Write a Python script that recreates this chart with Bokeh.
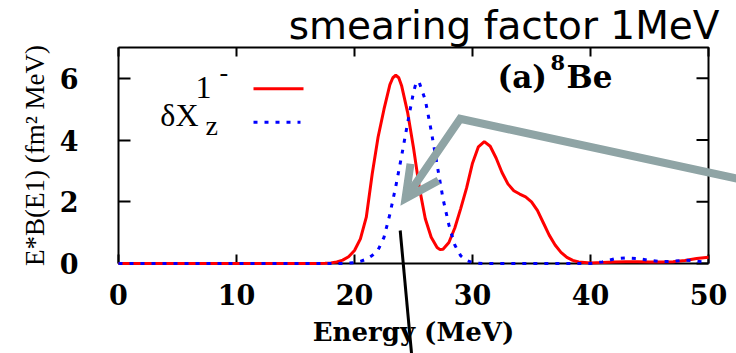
from bokeh.plotting import figure
from bokeh.models import Label, FixedTicker
from bokeh.embed import file_html
from bokeh.resources import INLINE

# E*B(E1) strength, smeared with 1 MeV: total 1- response
energy_1m = [0, 5, 10, 15, 17, 17.5, 18, 18.5, 19, 19.5, 20, 20.5, 21, 21.5, 22,
             22.5, 23, 23.25, 23.5, 23.75, 24, 24.5, 25, 25.5, 26, 26.5, 27,
             27.25, 27.5, 28, 28.5, 29, 29.5, 30, 30.5, 31, 31.5, 32, 32.5, 33,
             33.5, 34, 34.5, 35, 35.5, 36, 36.5, 37, 37.5, 38, 38.5, 39, 40,
             41, 42, 43, 44, 45, 46, 47, 48, 49, 50]
ebe1_1m = [0, 0, 0, 0, 0, 0.005, 0.02, 0.05, 0.11, 0.22, 0.42, 0.8, 1.5, 2.9, 4.1,
           5.0, 5.8, 6.02, 6.1, 6.02, 5.75, 4.9, 3.75, 2.45, 1.45, 0.85, 0.52,
           0.45, 0.46, 0.68, 1.15, 1.78, 2.45, 3.25, 3.78, 3.95, 3.8, 3.42, 2.95, 2.58,
           2.36, 2.25, 2.16, 2.0, 1.72, 1.32, 0.92, 0.6, 0.36, 0.2, 0.1, 0.05, 0.02,
           0.03, 0.05, 0.06, 0.06, 0.05, 0.05, 0.06, 0.1, 0.16, 0.2]

# delta X_z (dipole operator) response
energy_dx = [0, 5, 10, 15, 19, 19.5, 20, 20.5, 21, 21.5, 22, 22.5, 23, 23.5, 24,
             24.5, 25, 25.25, 25.5, 26, 26.5, 27, 27.5, 28, 28.5, 29, 29.5, 30,
             30.5, 31, 35, 40, 41, 42, 43, 44, 45, 46, 47, 48, 49, 50]
ebe1_dx = [0, 0, 0, 0, 0, 0.01, 0.03, 0.07, 0.14, 0.26, 0.44, 0.85, 1.6, 2.5, 3.5,
           4.55, 5.55, 5.9, 5.85, 5.3, 4.3, 3.2, 2.1, 1.25, 0.6, 0.25, 0.1, 0.03,
           0.01, 0, 0, 0, 0.05, 0.15, 0.18, 0.16, 0.1, 0.06, 0.07, 0.11, 0.08, 0.03]

x_ticks = [0, 10, 20, 30, 40, 50]
y_ticks = [0, 2, 4, 6]
x_lim = (0, 50)
y_lim = (0, 7)

# canvas and the pixel box the axes enclose; the frame covers the whole
# canvas so that the pointers and the heading may run past the axes
W, H = 736, 353
LEFT, RIGHT, TOP, BOTTOM = 118, 708, 47, 263
XPX = (RIGHT - LEFT) / (x_lim[1] - x_lim[0])
YPX = (BOTTOM - TOP) / (y_lim[1] - y_lim[0])


def dx(px):
    return x_lim[0] + (px - LEFT) / XPX


def dy(py):
    return y_lim[0] + (BOTTOM - py) / YPX


RED = "#ff0000"
BLUE = "#0000ff"
GREY = "#8fa4a5"
BOLD_SERIF = "DejaVu Serif"
SERIF = "Liberation Serif"

p = figure(width=W, height=H, x_range=(dx(0), dx(W)), y_range=(dy(H), dy(0)),
           output_backend="svg", toolbar_location=None, min_border=0)
p.background_fill_color = "white"
p.border_fill_color = "white"
p.outline_line_color = None
p.xgrid.visible = False
p.ygrid.visible = False

p.xaxis.fixed_location = y_lim[0]
p.yaxis.fixed_location = x_lim[0]
p.xaxis.bounds = x_lim
p.yaxis.bounds = y_lim
for ax, ticks, tick_len in ((p.xaxis[0], x_ticks, 9), (p.yaxis[0], y_ticks, 12)):
    ax.level = "underlay"
    ax.ticker = FixedTicker(ticks=ticks)
    ax.major_tick_in = tick_len
    ax.major_tick_out = 0
    ax.minor_tick_line_color = None
    ax.axis_line_width = 2
    ax.axis_line_color = "black"
    ax.major_tick_line_width = 2
    ax.major_tick_line_color = "black"
    ax.major_label_text_font = BOLD_SERIF
    ax.major_label_text_font_style = "bold"
    ax.major_label_text_font_size = "27px"
    ax.major_label_text_color = "black"
    ax.axis_label_text_color = "black"

p.xaxis.major_label_standoff = 20
p.yaxis.major_label_standoff = 40
p.xaxis.axis_label = "Energy (MeV)"
p.xaxis.axis_label_text_font = BOLD_SERIF
p.xaxis.axis_label_text_font_style = "bold"
p.xaxis.axis_label_text_font_size = "26px"
p.xaxis.axis_label_standoff = 9
p.yaxis.axis_label = "E*B(E1) (fm² MeV)"
p.yaxis.axis_label_text_font = SERIF
p.yaxis.axis_label_text_font_style = "normal"
p.yaxis.axis_label_text_font_size = "27px"
p.yaxis.axis_label_standoff = 7

# closing border on top and right, with mirrored inward ticks
p.line([x_lim[0], x_lim[1], x_lim[1]], [y_lim[1], y_lim[1], y_lim[0]],
       line_color="black", line_width=2)
p.segment(x0=x_ticks, y0=[y_lim[1]] * len(x_ticks), x1=x_ticks,
          y1=[y_lim[1] - 9 / YPX] * len(x_ticks), line_color="black", line_width=2)
p.segment(x0=[x_lim[1]] * len(y_ticks), y0=y_ticks, x1=[x_lim[1] - 12 / XPX] * len(y_ticks),
          y1=y_ticks, line_color="black", line_width=2)

p.line(energy_1m, ebe1_1m, line_color=RED, line_width=3)
p.line(energy_dx, ebe1_dx, line_color=BLUE, line_width=3, line_dash="4 7")


def put_text(sx, sy, text, font, size, bold=False, align="left"):
    # sx, sy in canvas pixels
    p.add_layout(Label(x=dx(sx), y=dy(sy - 0.25 * size), text=text, text_font=font,
                       text_font_size=f"{size}px", text_color="black",
                       text_font_style="bold" if bold else "normal",
                       text_align=align, text_baseline="alphabetic"))


# key, written gnuplot-style with the label left of the sample line
p.line([dx(253), dx(303)], [dy(88.3), dy(88.3)], line_color=RED, line_width=3)
p.line([dx(253), dx(300)], [dy(121.7), dy(121.7)], line_color=BLUE, line_width=3,
       line_dash="4 7")
put_text(211, 95, "1", SERIF, 32, align="right")
put_text(219, 78, "-", SERIF, 26)
put_text(198, 122, "δX", SERIF, 32, align="right")
put_text(205, 132, "z", SERIF, 28)

# panel tag
put_text(497, 84, "(a)", BOLD_SERIF, 31, bold=True)
put_text(550, 67, "8", BOLD_SERIF, 21, bold=True)
put_text(566, 84, "Be", BOLD_SERIF, 31, bold=True)

# heading across the top
put_text(719, 35, "smearing factor 1MeV", "DejaVu Sans", 39, align="right")

# grey pointer towards the first dipole peak
pointer_sx = [745, 459.7, 405]
pointer_sy = [180, 118.3, 198]
head_sx = [410, 405, 438]
head_sy = [163.3, 198, 180]
p.line([dx(v) for v in pointer_sx], [dy(v) for v in pointer_sy], line_color=GREY,
       line_width=8, line_join="miter")
p.line([dx(v) for v in head_sx], [dy(v) for v in head_sy], line_color=GREY,
       line_width=8, line_join="miter")

# thin black pointer crossing the energy label
p.line([dx(399.7), dx(411.5)], [dy(230), dy(358)], line_color="black", line_width=3)

open("out.html", "w").write(file_html(p, INLINE))
